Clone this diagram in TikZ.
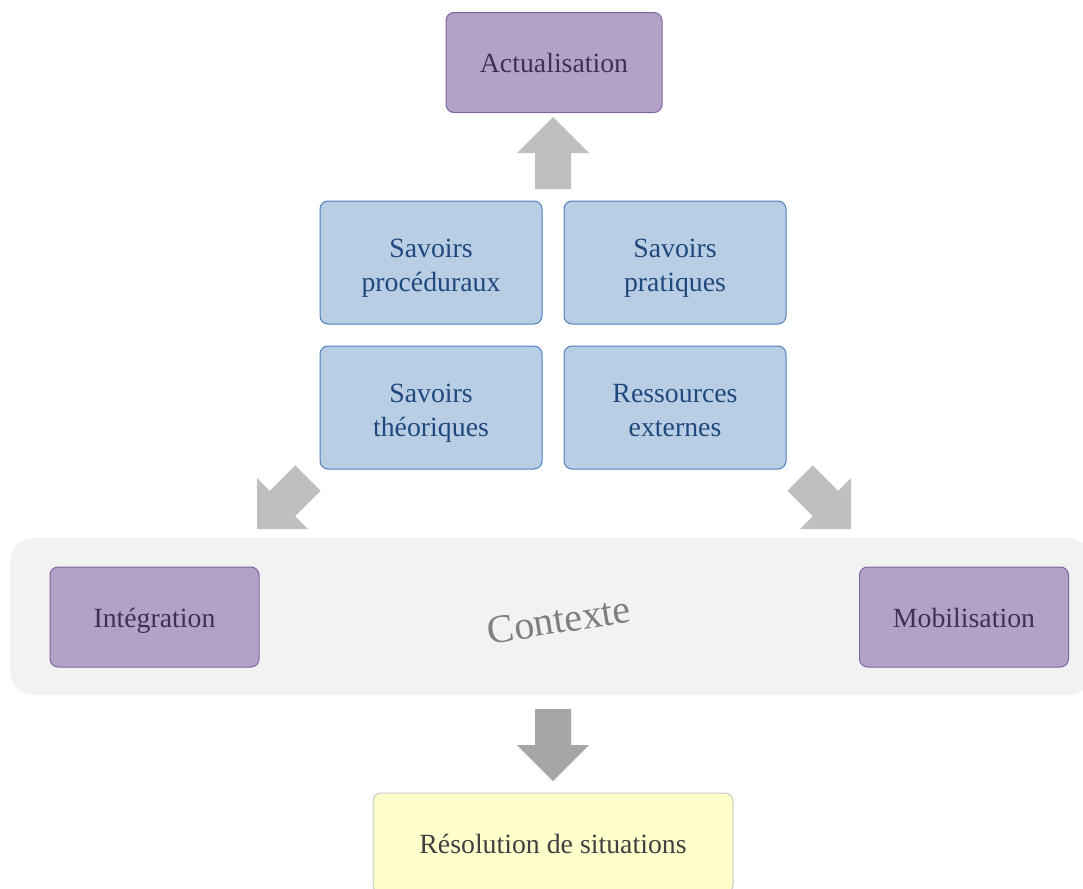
\documentclass[tikz,border=0pt]{standalone}
\usepackage{fontspec}
\setmainfont{Liberation Serif}
\usetikzlibrary{positioning}

\definecolor{purplefill}{HTML}{B3A2C7}
\definecolor{purpleline}{HTML}{8064A2}
\definecolor{purpletext}{HTML}{3F3151}
\definecolor{bluefill}{HTML}{B9CDE5}
\definecolor{blueline}{HTML}{4F81BD}
\definecolor{bluetext}{HTML}{1F497D}
\definecolor{bandgray}{HTML}{F2F2F2}
\definecolor{ctxgray}{HTML}{7F7F7F}
\definecolor{yellowfill}{HTML}{FFFFCC}
\definecolor{yellowline}{HTML}{C8C8C8}
\definecolor{arrowlight}{HTML}{BFBFBF}
\definecolor{arrowdark}{HTML}{A6A6A6}

\tikzset{
  stage/.style={draw=purpleline, fill=purplefill, text=purpletext,
    rounded corners=4pt, line width=0.5pt, minimum width=104.5pt,
    minimum height=50pt, text height=10pt, text depth=0pt,
    font=\fontsize{13.9}{17}\selectfont},
  savoir/.style={draw=blueline, fill=bluefill, text=bluetext, align=center,
    rounded corners=4pt, line width=0.5pt, minimum width=111pt,
    minimum height=61.5pt, text height=28.5pt, text depth=0pt,
    font=\fontsize{13.9}{17}\selectfont},
  pics/blockarrow/.style={code={
    \fill[#1] (0,0) -- (-36,-36) -- (-18,-36) -- (-18,-72)
      -- (18,-72) -- (18,-36) -- (36,-36) -- cycle;}}
}

\begin{document}
\begin{tikzpicture}[x=0.5pt, y=-0.5pt]
    \clip (0,0) rectangle (1083,889);

    % Context band
    \node[fill=bandgray, rounded corners=12pt, minimum width=541pt,
      minimum height=78.5pt] (band) at (551,616.5) {};
    \node[rotate=9, text=ctxgray, font=\fontsize{20}{24}\selectfont]
      (ctx) at (559,620) {Contexte};

    % Top
    \node[stage, minimum width=108pt] (actual) at (554,62.5) {Actualisation};

    % Knowledge grid
    \node[savoir] (proc) at (431,262.5) {Savoirs\\procéduraux};
    \node[savoir, right=10.5pt of proc] (prat) {Savoirs\\pratiques};
    \node[savoir, below=10.5pt of proc] (theo) {Savoirs\\théoriques};
    \node[savoir, below=10.5pt of prat] (ress) {Ressources\\externes};

    % Sides
    \node[stage] (integ) at (154.5,617) {Intégration};
    \node[stage] (mobil) at (964,617) {Mobilisation};

    % Bottom
    \node[draw=yellowline, fill=yellowfill, text=black!75, rounded corners=4pt,
      line width=0.5pt, minimum width=180pt, minimum height=50pt,
      text height=10pt, text depth=0pt,
      font=\fontsize{13.9}{17}\selectfont] (resol) at (553,843)
      {Résolution de situations};

    % Block arrows
    \pic[rotate=180] at (553,117) {blockarrow=arrowlight};
    \pic[rotate=-45] at (257,529) {blockarrow=arrowlight};
    \pic[rotate=45] at (851,529) {blockarrow=arrowlight};
    \pic at (553,781) {blockarrow=arrowdark};
\end{tikzpicture}
\end{document}
